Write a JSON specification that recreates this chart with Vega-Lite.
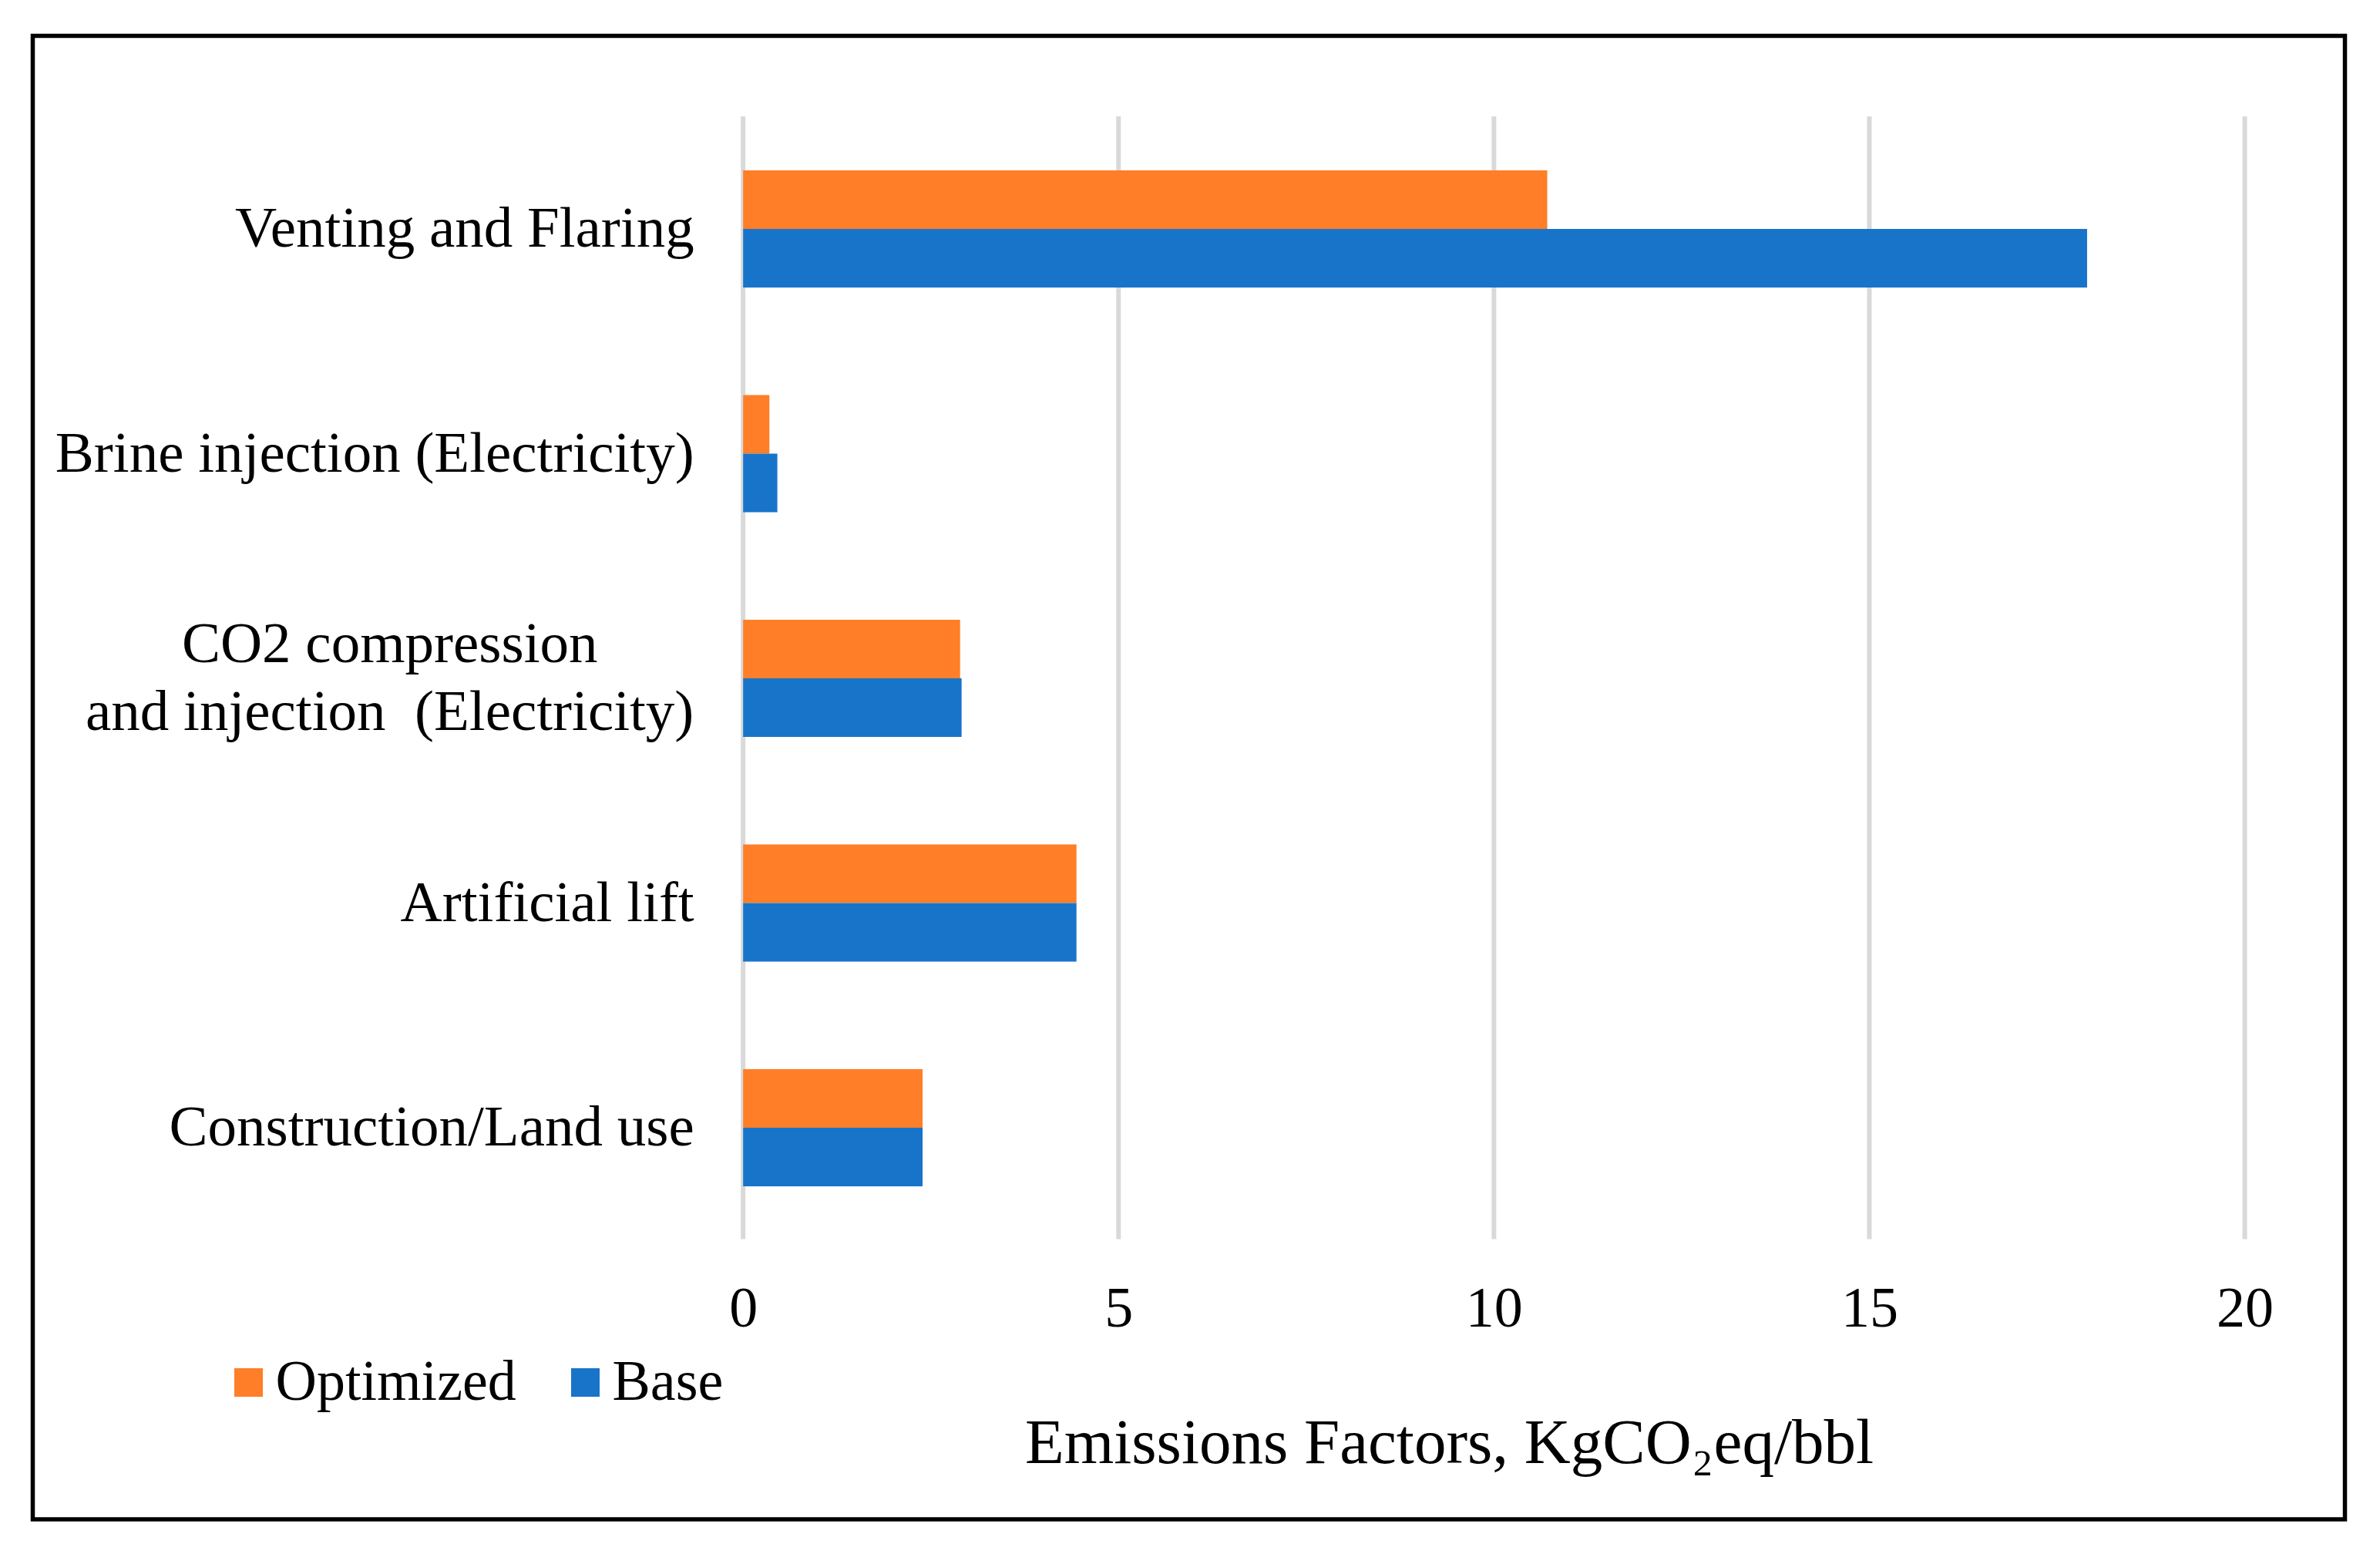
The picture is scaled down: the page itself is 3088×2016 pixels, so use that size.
{
  "$schema": "https://vega.github.io/schema/vega-lite/v6.json",
  "autosize": {"type": "none"},
  "width": 3000,
  "height": 1924.5,
  "padding": {"left": 42.5, "top": 46.5, "right": 45.5, "bottom": 45},
  "background": "white",
  "datasets": {
    "bars": [
      {"category": "Venting and Flaring", "series": "Optimized", "value": 10.71},
      {"category": "Venting and Flaring", "series": "Base", "value": 17.9},
      {"category": "Brine injection (Electricity)", "series": "Optimized", "value": 0.35},
      {"category": "Brine injection (Electricity)", "series": "Base", "value": 0.456},
      {"category": "CO2 compression and injection (Electricity)", "series": "Optimized", "value": 2.89},
      {"category": "CO2 compression and injection (Electricity)", "series": "Base", "value": 2.91},
      {"category": "Artificial lift", "series": "Optimized", "value": 4.44},
      {"category": "Artificial lift", "series": "Base", "value": 4.44},
      {"category": "Construction/Land use", "series": "Optimized", "value": 2.39},
      {"category": "Construction/Land use", "series": "Base", "value": 2.39}
    ],
    "grid": [
      {"tick": 0, "top": "Venting and Flaring", "bottom": "Construction/Land use"},
      {"tick": 5, "top": "Venting and Flaring", "bottom": "Construction/Land use"},
      {"tick": 10, "top": "Venting and Flaring", "bottom": "Construction/Land use"},
      {"tick": 15, "top": "Venting and Flaring", "bottom": "Construction/Land use"},
      {"tick": 20, "top": "Venting and Flaring", "bottom": "Construction/Land use"}
    ]
  },
  "layer": [
    {
      "data": {"name": "grid"},
      "mark": {"type": "rule", "color": "#D9D9D9", "strokeWidth": 6},
      "encoding": {
        "x": {"field": "tick", "type": "quantitative"},
        "y": {"field": "top", "type": "nominal", "bandPosition": -0.332},
        "y2": {"field": "bottom", "bandPosition": 1.323}
      }
    },
    {
      "data": {"name": "bars"},
      "mark": {"type": "bar", "opacity": 1},
      "encoding": {
        "x": {
          "field": "value",
          "type": "quantitative",
          "stack": null,
          "scale": {"domain": [-9.461, 21.334], "nice": false, "zero": false},
          "axis": {
            "orient": "bottom",
            "offset": -363,
            "values": [0, 5, 10, 15, 20],
            "format": "d",
            "grid": false,
            "domain": false,
            "ticks": false,
            "tickSize": 0,
            "labelPadding": 112,
            "labelBaseline": "alphabetic",
            "labelFlush": false,
            "labelOverlap": false,
            "labelFontSize": 74,
            "labelFont": "Liberation Serif",
            "labelColor": "black",
            "title": "Emissions Factors, KgCO₂eq/bbl",
            "titleFont": "Liberation Serif",
            "titleFontSize": 83,
            "titleFontWeight": "normal",
            "titleColor": "black",
            "titleX": 1837.5,
            "titleY": 289,
            "titleAlign": "center",
            "titleBaseline": "alphabetic"
          }
        },
        "y": {
          "field": "category",
          "type": "nominal",
          "scale": {
            "type": "band",
            "domain": ["Venting and Flaring", "Brine injection (Electricity)", "CO2 compression and injection (Electricity)", "Artificial lift", "Construction/Land use"],
            "paddingInner": 0.398,
            "paddingOuter": 1,
            "align": 0.2792,
            "round": false
          },
          "axis": {
            "orient": "left",
            "offset": -921.7,
            "title": null,
            "grid": false,
            "domain": false,
            "ticks": false,
            "tickSize": 0,
            "labelPadding": {"condition": {"test": "datum.value == 'CO2 compression and injection (Electricity)'", "value": 459}, "value": 64},
            "labelAlign": {"condition": {"test": "datum.value == 'CO2 compression and injection (Electricity)'", "value": "center"}, "value": "right"},
            "labelOffset": {"condition": {"test": "datum.value == 'CO2 compression and injection (Electricity)'", "value": -44}, "value": 0},
            "labelBaseline": "middle",
            "labelFontSize": 75,
            "labelFont": "Liberation Serif",
            "labelColor": "black",
            "labelLimit": 0,
            "labelLineHeight": 88,
            "labelExpr": "datum.value == 'CO2 compression and injection (Electricity)' ? ['CO2 compression', 'and injection \u00a0(Electricity)'] : datum.value"
          }
        },
        "yOffset": {
          "field": "series",
          "type": "nominal",
          "scale": {"domain": ["Optimized", "Base"], "paddingInner": 0, "paddingOuter": 0.155}
        },
        "color": {
          "field": "series",
          "type": "nominal",
          "scale": {"domain": ["Optimized", "Base"], "range": ["#FF7E27", "#1874C9"]},
          "legend": {
            "orient": "none",
            "legendX": 243,
            "legendY": 1710,
            "direction": "horizontal",
            "title": null,
            "symbolType": "square",
            "symbolSize": 1369,
            "symbolStrokeWidth": 0,
            "symbolOpacity": 1,
            "labelFontSize": 74,
            "labelFont": "Liberation Serif",
            "labelColor": "black",
            "labelOffset": -2,
            "columnPadding": 52,
            "padding": 0,
            "labelLimit": 0
          }
        }
      }
    }
  ],
  "config": {
    "view": {"stroke": "black", "strokeWidth": 5.5, "fill": "white"},
    "font": "Liberation Serif"
  }
}
